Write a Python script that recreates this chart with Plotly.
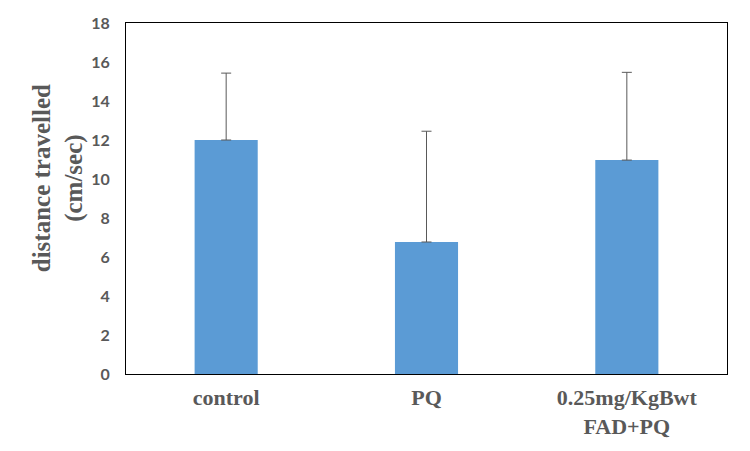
import plotly.graph_objects as go

categories = ["control", "PQ", "0.25mg/KgBwt<br>FAD+PQ"]
means = [12.0, 6.77, 10.97]
err_plus = [3.43, 5.68, 4.5]
y_ticks = [0, 2, 4, 6, 8, 10, 12, 14, 16, 18]
y_title = "distance travelled<br>(cm/sec)"

fig = go.Figure(go.Bar(
    x=categories, y=means,
    marker=dict(color="#5B9BD5", line=dict(width=0)),
    error_y=dict(type="data", array=err_plus, arrayminus=[0, 0, 0], symmetric=False,
                 color="#595959", thickness=1, width=5),
))

# page body has an 8px default margin; size figure so page fits the 750x451 window
fig.update_layout(
    width=734, height=435,
    margin=dict(l=118, r=15, t=15, b=69),
    paper_bgcolor="white", plot_bgcolor="white",
    bargap=0.685, showlegend=False,
    xaxis=dict(showline=True, linecolor="black", linewidth=1, mirror=True, automargin=False,
               showgrid=False, ticks="", ticklabelstandoff=4,
               tickfont=dict(family="Liberation Serif", size=22, color="#595959", weight="bold")),
    yaxis=dict(range=[0, 18], tickvals=y_ticks, showline=True, linecolor="black", linewidth=1,
               mirror=True, showgrid=False, zeroline=False, ticks="", ticklabelstandoff=12,
               automargin=False,
               tickfont=dict(family="Lato", size=16, color="#595959", weight="bold")),
    annotations=[dict(text=y_title, textangle=-90, xref="paper", yref="paper",
                      x=-0.113, y=0.558, xanchor="center", yanchor="middle",
                      showarrow=False, align="center",
                      font=dict(family="Liberation Serif", size=25, color="#595959", weight="bold"))],
)

fig.write_html("out.html")
